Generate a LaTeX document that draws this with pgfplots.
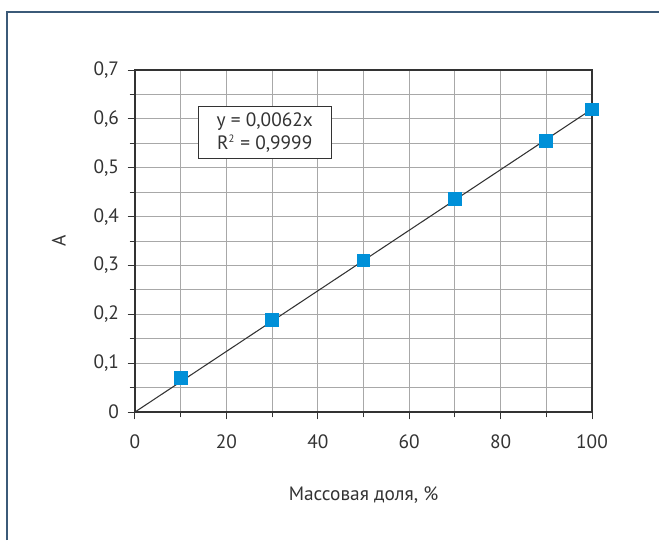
\documentclass[border=0pt]{standalone}
\usepackage{pgfplots}
\pgfplotsset{compat=1.18}
\usepackage{fontspec}
\setmainfont{PT Sans}
\definecolor{frame}{HTML}{3B5A78}
\definecolor{mk}{HTML}{0090D8}
\definecolor{gridc}{HTML}{A8A8A8}
\definecolor{axc}{HTML}{333333}
\begin{document}
\begin{tikzpicture}
\pgfplotstableread{
x y
10 0.070
30 0.189
50 0.310
70 0.436
90 0.555
100 0.619
}\datatab
\begin{axis}[
  at={(0,0)}, anchor=south west,
  width=342.75pt, height=256.5pt, scale only axis,
  xmin=0, xmax=100, ymin=0, ymax=0.7,
  xtick={0,20,...,100}, minor x tick num=1,
  ytick={0,0.1,...,0.7}, minor y tick num=1,
  grid=both,
  major grid style={gridc, line width=0.75pt},
  minor grid style={gridc, line width=0.75pt},
  axis line style={axc, line width=0.9pt},
  tick style={axc, line width=0.75pt},
  tick align=outside,
  major tick length=5.5pt, minor tick length=4pt,
  xtick pos=bottom, ytick pos=left,
  /pgf/number format/use comma,
  /pgf/number format/assume math mode=true,
  yticklabel style={/pgf/number format/fixed, /pgf/number format/precision=1},
  ticklabel style={font=\fontsize{14.5}{17}\selectfont, text=axc},
  label style={font=\fontsize{14.5}{17}\selectfont, text=axc},
  xlabel={Массовая доля, \%},
  ylabel={A},
  xlabel style={yshift=-22pt},
  ylabel style={yshift=14pt},
  xticklabel style={yshift=-8pt},
  yticklabel style={xshift=-3pt},
  clip=false,
]
\addplot[axc, line width=0.8pt, no markers] coordinates {(0,0) (100,0.62)};
\addplot[mk, only marks, mark=square*, mark size=4.8pt, mark options={fill=mk, draw=mk, line width=0pt}] table[x=x,y=y] {\datatab};
\node[draw=axc, fill=white, line width=0.75pt, align=center,
      font=\fontsize{14.5}{17}\selectfont, text=axc, inner xsep=14pt, inner ysep=5pt]
  at (axis cs:28.4,0.572) {y = 0,0062x\\R\textsuperscript{\fontsize{8}{8}\selectfont 2} = 0,9999};
\end{axis}
\path[use as bounding box] (-101.25pt,-96pt) rectangle (393pt,309pt);
\draw[frame, line width=1.5pt] (-96pt,-96pt) -- (-96pt,300pt) -- (393pt,300pt);
\end{tikzpicture}
\end{document}
